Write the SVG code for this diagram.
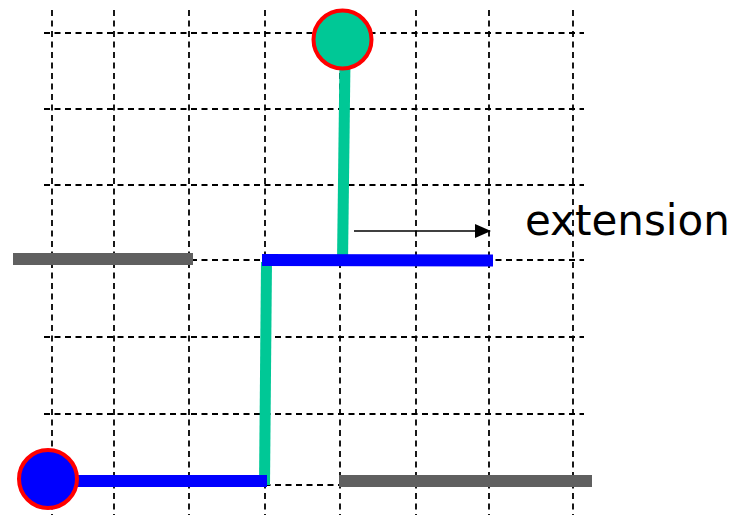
<svg xmlns="http://www.w3.org/2000/svg" width="736" height="515" viewBox="0 0 736 515">
<style>
.grid line{stroke:#000;stroke-width:1.8;stroke-dasharray:6 4.5;fill:none}
.gray{stroke:#606060;stroke-width:12;fill:none}
.blue{stroke:#0000ff;stroke-width:12;fill:none}
.green{stroke:#00c896;stroke-width:11;fill:none}
.pin{stroke:#ff0000;stroke-width:4}
.label{font-family:"DejaVu Sans",Verdana,sans-serif;font-size:42px;fill:#000}
</style>
<defs>
<marker id="ah" markerWidth="16" markerHeight="14" refX="15" refY="7" orient="auto" markerUnits="userSpaceOnUse">
<path d="M0,0 L16,7 L0,14 Z" fill="#000"/>
</marker>
</defs>
<rect width="736" height="515" fill="#fff"/>
<g id="grid" class="grid">
<line x1="44" y1="33" x2="584" y2="33"/>
<line x1="44" y1="109" x2="584" y2="109"/>
<line x1="44" y1="185" x2="584" y2="185"/>
<line x1="44" y1="260" x2="584" y2="260"/>
<line x1="44" y1="337" x2="584" y2="337"/>
<line x1="44" y1="414" x2="584" y2="414"/>
<line x1="44" y1="485" x2="584" y2="485"/>
<line x1="52" y1="10" x2="52" y2="515"/>
<line x1="114" y1="10" x2="114" y2="515"/>
<line x1="189" y1="10" x2="189" y2="515"/>
<line x1="265" y1="10" x2="265" y2="515"/>
<line x1="340" y1="10" x2="340" y2="515"/>
<line x1="416" y1="10" x2="416" y2="515"/>
<line x1="489" y1="10" x2="489" y2="515"/>
<line x1="573" y1="10" x2="573" y2="515"/>
</g>
<g id="connectors">
<line class="gray" x1="13" y1="259" x2="193" y2="259"/>
<line class="gray" x1="339" y1="481" x2="592" y2="481"/>
<line class="green" x1="345" y1="60" x2="342.5" y2="262"/>
<line class="green" x1="266.5" y1="262" x2="264.5" y2="485"/>
<line class="blue" x1="262" y1="260" x2="493" y2="260.5"/>
<line class="blue" x1="70" y1="481" x2="267" y2="481"/>
<line x1="354" y1="231" x2="490" y2="231" stroke="#000" stroke-width="1.6" marker-end="url(#ah)"/>
</g>
<g id="node-target">
<circle class="pin" cx="342.5" cy="39.5" r="29" fill="#00c896"/>
</g>
<g id="node-source">
<circle class="pin" cx="48" cy="479" r="29" fill="#0000ff"/>
</g>
<g id="label-extension">
<text class="label" x="525" y="235">extension</text>
</g>
</svg>
